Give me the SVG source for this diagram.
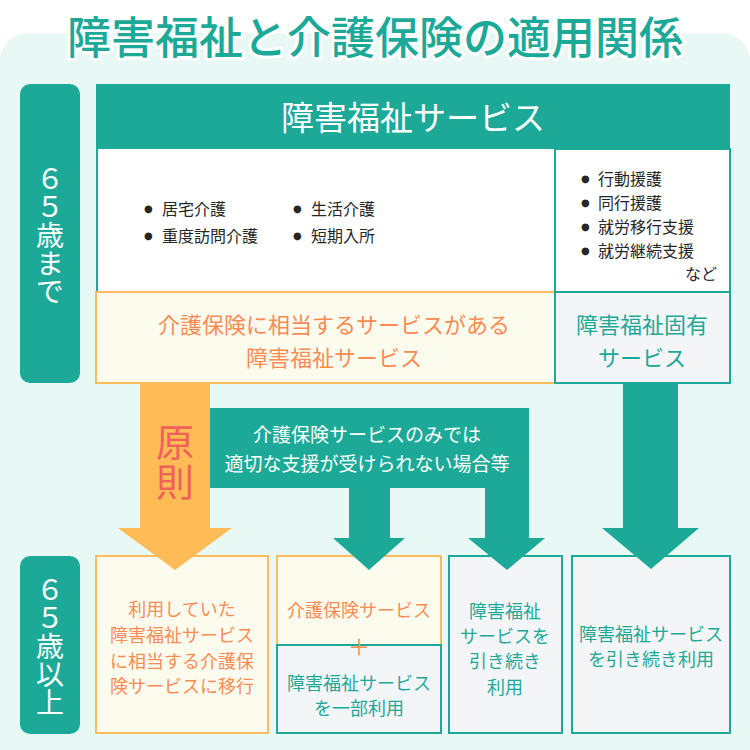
<svg xmlns="http://www.w3.org/2000/svg" width="750" height="750" viewBox="0 0 750 750">
<style>
text{font-family:"Noto Sans CJK JP","Noto Sans",sans-serif;dominant-baseline:central;text-anchor:middle}
.teal{fill:#1DA998}
.tf{fill:#1DA998}
.wt{fill:#ffffff}
.or{fill:#FA8B52}
.dk{fill:#262626;text-anchor:start}
.b{font-family:"DejaVu Sans",sans-serif;font-size:10px}
.vt{writing-mode:vertical-rl;fill:#ffffff;font-size:28px;text-anchor:middle}
.cream{fill:#FCFCEE;stroke:#FFBB5C;stroke-width:2}
.gray{fill:#F4F5F7;stroke:#1DA998;stroke-width:2}
.white{fill:#ffffff;stroke:#1DA998;stroke-width:2}
</style>
<rect x="0" y="33" width="750" height="760" rx="28" fill="#E8F8F4"/>
<g id="title">
<text x="375" y="35" font-size="44" font-weight="500" class="tf" stroke="#ffffff" stroke-width="6" paint-order="stroke" stroke-linejoin="round">障害福祉と介護保険の適用関係</text>
</g>
<g id="label-under65">
<rect x="20" y="84" width="60" height="299" rx="10" class="teal"/>
<text class="vt" x="50" y="235">６５歳まで</text>
</g>
<g id="label-over65">
<rect x="20" y="556" width="60" height="178" rx="10" class="teal"/>
<text class="vt" x="50" y="646">６５歳以上</text>
</g>
<g id="welfare-services">
<rect x="97" y="85" width="632" height="207" class="white"/>
<rect x="96" y="84" width="634" height="65" class="teal"/>
<text class="wt" font-size="33" x="413" y="116">障害福祉サービス</text>
<text class="dk" font-size="16" y="208"><tspan class="b" x="144">●</tspan><tspan x="162">居宅介護</tspan></text>
<text class="dk" font-size="16" y="235"><tspan class="b" x="144">●</tspan><tspan x="162">重度訪問介護</tspan></text>
<text class="dk" font-size="16" y="208"><tspan class="b" x="293">●</tspan><tspan x="311">生活介護</tspan></text>
<text class="dk" font-size="16" y="235"><tspan class="b" x="293">●</tspan><tspan x="311">短期入所</tspan></text>
</g>
<g id="welfare-specific-list">
<rect x="555" y="149" width="175" height="143" class="white"/>
<text class="dk" font-size="16" y="178"><tspan class="b" x="581">●</tspan><tspan x="598">行動援護</tspan></text>
<text class="dk" font-size="16" y="202"><tspan class="b" x="581">●</tspan><tspan x="598">同行援護</tspan></text>
<text class="dk" font-size="16" y="226"><tspan class="b" x="581">●</tspan><tspan x="598">就労移行支援</tspan></text>
<text class="dk" font-size="16" y="250"><tspan class="b" x="581">●</tspan><tspan x="598">就労継続支援</tspan></text>
<text class="dk" font-size="16" x="717" y="273" style="text-anchor:end">など</text>
</g>
<g id="equivalent-services">
<rect x="96" y="292" width="459" height="91" class="cream"/>
<text class="or" font-size="22" x="334" y="323">介護保険に相当するサービスがある</text>
<text class="or" font-size="22" x="334" y="356">障害福祉サービス</text>
</g>
<g id="specific-services">
<rect x="555" y="292" width="175" height="91" class="gray"/>
<text class="tf" font-size="22" x="642" y="323">障害福祉固有</text>
<text class="tf" font-size="22" x="642" y="356">サービス</text>
</g>
<g id="result-migrate">
<rect x="96" y="556" width="172" height="177" class="cream"/>
<text class="or" font-size="18" x="182" y="608">利用していた</text>
<text class="or" font-size="18" x="182" y="634">障害福祉サービス</text>
<text class="or" font-size="18" x="182" y="660">に相当する介護保</text>
<text class="or" font-size="18" x="182" y="685">険サービスに移行</text>
</g>
<g id="result-combined">
<rect x="277" y="556" width="164" height="89" class="cream"/>
<rect x="277" y="645" width="164" height="88" class="gray"/>
<text class="or" font-size="18" x="359" y="609">介護保険サービス</text>
<text class="or" font-size="22" x="359" y="645">＋</text>
<text class="tf" font-size="18" x="359" y="682">障害福祉サービス</text>
<text class="tf" font-size="18" x="359" y="707">を一部利用</text>
</g>
<g id="result-continue">
<rect x="449" y="556" width="113" height="177" class="gray"/>
<text class="tf" font-size="18" x="505" y="610">障害福祉</text>
<text class="tf" font-size="18" x="505" y="635">サービスを</text>
<text class="tf" font-size="18" x="505" y="660">引き続き</text>
<text class="tf" font-size="18" x="505" y="686">利用</text>
</g>
<g id="result-specific">
<rect x="572" y="556" width="158" height="177" class="gray"/>
<text class="tf" font-size="18" x="651" y="633">障害福祉サービス</text>
<text class="tf" font-size="18" x="651" y="658">を引き続き利用</text>
</g>
<g id="connectors">
<polygon points="140,383 210,383 210,528 232,528 175,570 118,528 140,528" fill="#FFBB55"/>
<text x="175" y="463" font-size="38" fill="#F2605A" style="writing-mode:vertical-rl" letter-spacing="2">原則</text>
<polygon points="210,408 529,408 529,538 545,538 507,570 468,538 485,538 485,488 390,488 390,538 405,538 369,570 333,538 349,538 349,488 210,488" class="teal"/>
<text class="wt" font-size="19" x="367" y="433">介護保険サービスのみでは</text>
<text class="wt" font-size="19" x="367" y="462">適切な支援が受けられない場合等</text>
<polygon points="623,383 678,383 678,528 699,528 651,569 602,528 623,528" class="teal"/>
</g>
</svg>
